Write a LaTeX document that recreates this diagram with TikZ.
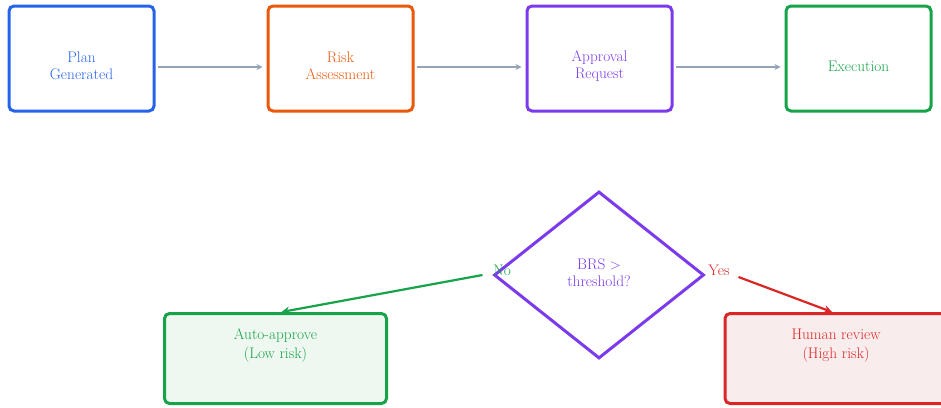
\documentclass[tikz,border=0pt]{standalone}
\usetikzlibrary{shapes.geometric,arrows.meta}
\definecolor{cblue}{HTML}{2563EB}
\definecolor{corange}{HTML}{EA580C}
\definecolor{cpurple}{HTML}{7C3AED}
\definecolor{cgreen}{HTML}{16A34A}
\definecolor{cred}{HTML}{DC2626}
\definecolor{cgray}{HTML}{94A3B8}
\definecolor{fgreen}{HTML}{EFF8F0}
\definecolor{fred}{HTML}{F9ECEC}
\tikzset{
  stage/.style={draw=#1, line width=3pt, rounded corners=5pt, minimum width=145pt, minimum height=105pt, inner sep=0pt},
  outcome/.style={draw=#1, line width=3pt, rounded corners=5pt, minimum width=222pt, minimum height=90pt, inner sep=0pt},
  txt/.style={text=#1, align=center, font=\fontsize{15.3}{17}\selectfont, inner sep=0pt},
  flow/.style={draw=cgray, line width=2pt, -{Stealth[length=6pt,width=6pt]}},
  branch/.style={draw=#1, line width=2.2pt, -{Stealth[length=8pt,width=8pt]}},
}
\begin{document}
\begin{tikzpicture}[x=1pt,y=-1pt]
\useasboundingbox (0,0) rectangle (941,407);

% pipeline stages
\node[stage=cblue]   (plan) at (81.5,58.5) {};
\node[stage=corange] (risk) at (340.5,58.5) {};
\node[stage=cpurple] (appr) at (599.5,58.5) {};
\node[stage=cgreen]  (exec) at (858.5,58.5) {};
\node[txt=cblue]   (plant) at (81.5,66) {Plan\\Generated};
\node[txt=corange] (riskt) at (340.5,66) {Risk\\Assessment};
\node[txt=cpurple] (apprt) at (599.5,66) {Approval\\Request};
\node[txt=cgreen]  (exect) at (858.5,66) {Execution};

\draw[flow] ([shift={(2,8.5)}]plan.east) -- ([shift={(-4,8.5)}]risk.west);
\draw[flow] ([shift={(2,8.5)}]risk.east) -- ([shift={(-4,8.5)}]appr.west);
\draw[flow] ([shift={(2,8.5)}]appr.east) -- ([shift={(-4,8.5)}]exec.west);

% decision
\node[diamond, draw=cpurple, line width=3pt, minimum width=210pt, minimum height=167pt, inner sep=0pt] (dec) at (599,275) {};
\node[txt=cpurple] (dect) at (599,273) {BRS $>$\\threshold?};

% outcomes
\node[outcome=cgreen, fill=fgreen] (auto) at (275.5,358.5) {};
\node[outcome=cred, fill=fred]     (human) at (836,358.5) {};
\node[txt=cgreen, font=\fontsize{15.3}{19}\selectfont] (autot) at (275.5,345.5) {Auto-approve\\(Low risk)};
\node[txt=cred, font=\fontsize{15.3}{19}\selectfont]   (humant) at (836,345.5) {Human review\\(High risk)};

\draw[branch=cgreen] ([xshift=-10pt]dec.west) -- ([xshift=6pt]auto.north);
\draw[branch=cred] ([shift={(33,2)}]dec.east) -- ([xshift=-4pt]human.north);

\node[txt=cgreen] (no)  at (502,270) {No};
\node[txt=cred]   (yes) at (719,270) {Yes};
\end{tikzpicture}
\end{document}
